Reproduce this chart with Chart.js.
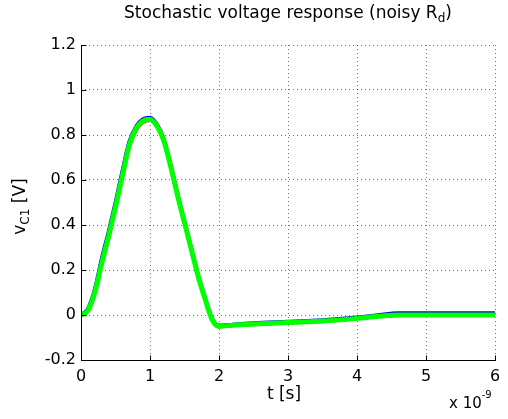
<!DOCTYPE html>
<html>
<head>
<meta charset="utf-8">
<script src="https://cdn.jsdelivr.net/npm/chart.js@4.4.0/dist/chart.umd.min.js"></script>
<style>
  body { margin: 0; background: #fff; }
  #wrap { width: 508px; height: 419px; }
</style>
</head>
<body>
<div id="wrap"><canvas id="voltChart" width="508" height="419"></canvas></div>
<script>
// time axis, in units of 1e-9 s
const tValues = [0, 0.1, 0.2, 0.3, 0.4, 0.5, 0.6, 0.7, 0.8, 0.9, 1.0, 1.1, 1.2, 1.3, 1.4, 1.5, 1.6, 1.7, 1.8, 1.9, 2.0, 2.2, 2.5, 3.0, 3.5, 4.0, 4.3, 4.6, 5.0, 5.5, 6.0];

// a few noisy realisations of v_C1
const vGreen = [0, 0.02, 0.10, 0.23, 0.35, 0.48, 0.62, 0.755, 0.83, 0.863, 0.87, 0.84, 0.775, 0.66, 0.53, 0.41, 0.29, 0.17, 0.07, -0.02, -0.05, -0.045, -0.04, -0.033, -0.027, -0.015, -0.006, 0, 0, 0, 0];
const vBlue  = [0, 0.027, 0.112, 0.248, 0.368, 0.498, 0.638, 0.768, 0.838, 0.87, 0.877, 0.846, 0.778, 0.663, 0.533, 0.413, 0.293, 0.173, 0.073, -0.017, -0.047, -0.043, -0.037, -0.03, -0.023, -0.011, -0.001, 0.008, 0.008, 0.008, 0.008];
const vRed   = [0, 0.017, 0.094, 0.219, 0.339, 0.469, 0.609, 0.748, 0.82, 0.855, 0.864, 0.846, 0.787, 0.672, 0.542, 0.416, 0.296, 0.176, 0.073, -0.021, -0.053, -0.048, -0.043, -0.036, -0.029, -0.017, -0.008, -0.002, -0.001, -0.001, -0.001];

const xTickLabels = ['0', '1', '2', '3', '4', '5', '6'];
const yTickLabels = ['-0.2', '0', '0.2', '0.4', '0.6', '0.8', '1', '1.2'];

const FONT = '"DejaVu Sans", sans-serif';

function toPoints(ys) {
  return tValues.map((t, i) => ({ x: t, y: ys[i] }));
}

function lineSet(label, ys, color, width) {
  return {
    label: label,
    data: toPoints(ys),
    borderColor: color,
    borderWidth: width,
    pointRadius: 0,
    fill: false,
    cubicInterpolationMode: 'monotone'
  };
}

// text with a sub/superscript part
function drawScripted(ctx, parts, x, y, align) {
  let total = 0;
  parts.forEach(p => {
    ctx.font = p.size + 'px ' + FONT;
    p.w = ctx.measureText(p.text).width;
    total += p.w;
  });
  let cx = align === 'center' ? x - total / 2 : x;
  parts.forEach(p => {
    ctx.font = p.size + 'px ' + FONT;
    ctx.fillText(p.text, cx, y + (p.dy || 0));
    cx += p.w;
  });
}

const labelsPlugin = {
  id: 'labels',
  afterDraw(chart) {
    const ctx = chart.ctx;
    const area = chart.chartArea;
    const xs = chart.scales.x, ys = chart.scales.y;
    ctx.save();

    // solid axes on left and bottom, with inward tick marks
    ctx.strokeStyle = '#000';
    ctx.lineWidth = 1;
    ctx.setLineDash([]);
    ctx.beginPath();
    const L = Math.round(area.left) + 0.5, B = Math.round(area.bottom) + 0.5;
    ctx.moveTo(L, Math.round(area.top));
    ctx.lineTo(L, B);
    ctx.lineTo(Math.round(area.right) + 1, B);
    xTickLabels.forEach(l => {
      const px = Math.round(xs.getPixelForValue(parseFloat(l))) + 0.5;
      ctx.moveTo(px, B);
      ctx.lineTo(px, B - 5);
    });
    yTickLabels.forEach(l => {
      const py = Math.round(ys.getPixelForValue(parseFloat(l))) + 0.5;
      ctx.moveTo(L, py);
      ctx.lineTo(L + 5, py);
    });
    ctx.stroke();

    ctx.fillStyle = '#000';
    ctx.textBaseline = 'alphabetic';
    const mid = (area.left + area.right) / 2;

    // title
    drawScripted(ctx, [
      { text: 'Stochastic voltage response (noisy R', size: 17 },
      { text: 'd', size: 12, dy: 4 },
      { text: ')', size: 17 }
    ], mid, 18, 'center');

    // x label
    ctx.font = '17px ' + FONT;
    ctx.textAlign = 'center';
    ctx.fillText('t [s]', mid - 4, 399);
    ctx.textAlign = 'left';

    // exponent
    drawScripted(ctx, [
      { text: 'x 10', size: 15 },
      { text: '-9', size: 10, dy: -10 }
    ], 449, 408, 'left');

    // y label, rotated
    ctx.translate(25, (area.top + area.bottom) / 2 + 4);
    ctx.rotate(-Math.PI / 2);
    drawScripted(ctx, [
      { text: 'v', size: 17 },
      { text: 'C1', size: 12, dy: 4 },
      { text: ' [V]', size: 17 }
    ], 0, 0, 'center');

    ctx.restore();
  }
};

const grid = {
  color: 'rgba(0,0,0,0.55)',
  lineWidth: 1,
  drawTicks: false
};

new Chart(document.getElementById('voltChart').getContext('2d'), {
  type: 'line',
  data: {
    datasets: [
      lineSet('Realisation 3', vGreen, '#00ff00', 5),
      lineSet('Realisation 2', vRed, '#ff0000', 3),
      lineSet('Realisation 1', vBlue, '#0000ff', 4)
    ]
  },
  options: {
    responsive: false,
    animation: false,
    layout: { padding: { top: 45, right: 13, left: 0, bottom: 0 } },
    plugins: {
      legend: { display: false },
      tooltip: { enabled: false }
    },
    scales: {
      x: {
        type: 'linear',
        min: 0,
        max: 6,
        afterFit: s => { s.height = 59; },
        afterBuildTicks: s => { s.ticks = xTickLabels.map(v => ({ value: parseFloat(v) })); },
        grid: grid,
        border: { display: false, dash: [1, 3] },
        ticks: {
          padding: 7,
          color: '#000',
          font: { family: FONT, size: 16 },
          callback: (v, i) => xTickLabels[i]
        }
      },
      y: {
        type: 'linear',
        min: -0.2,
        max: 1.2,
        afterFit: s => { s.width = 81; },
        afterBuildTicks: s => { s.ticks = yTickLabels.map(v => ({ value: parseFloat(v) })); },
        grid: grid,
        border: { display: false, dash: [1, 3] },
        ticks: {
          padding: 5,
          color: '#000',
          font: { family: FONT, size: 16 },
          callback: (v, i) => yTickLabels[i]
        }
      }
    }
  },
  plugins: [labelsPlugin]
});
</script>
</body>
</html>
